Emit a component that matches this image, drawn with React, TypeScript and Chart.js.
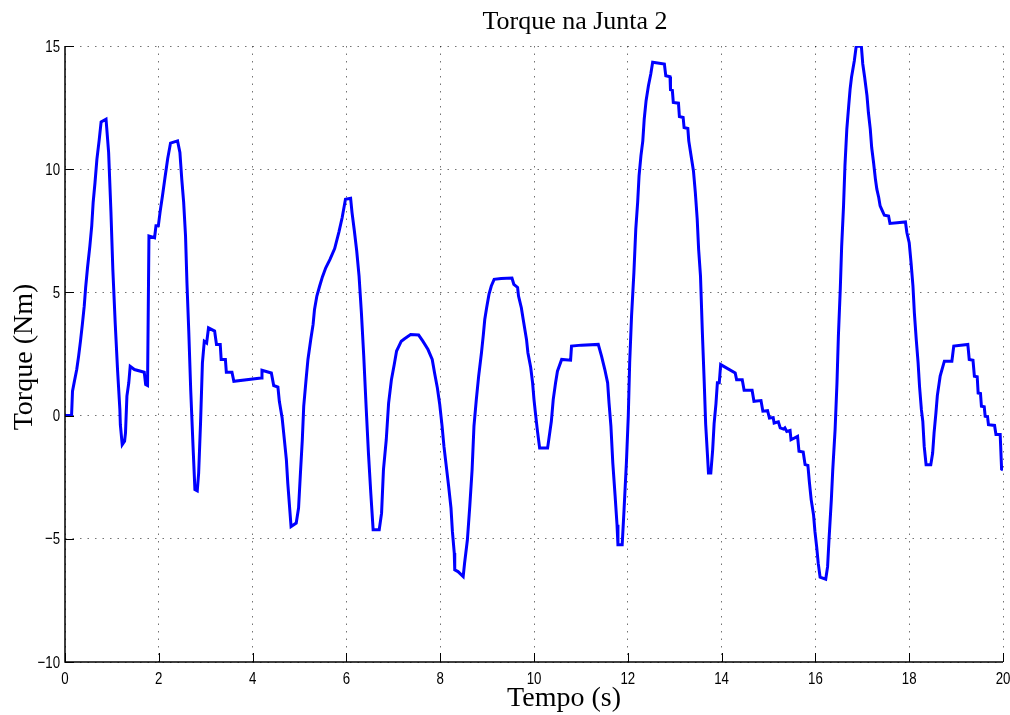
import React, { useEffect, useRef } from "react";
import { Chart, registerables } from "chart.js";

Chart.register(...registerables);

const TITLE = "Torque na Junta 2";
const X_LABEL = "Tempo (s)";
const Y_LABEL = "Torque (Nm)";
const X_MIN = 0;
const X_MAX = 20;
const X_STEP = 2;
const Y_MIN = -10;
const Y_MAX = 15;
const Y_STEP = 5;
const X_TICK_LABELS = ["0", "2", "4", "6", "8", "10", "12", "14", "16", "18", "20"];
const Y_TICK_LABELS = ["\u221210", "\u22125", "0", "5", "10", "15"];

const time = [
  0, 0.14, 0.16, 0.2, 0.25, 0.29, 0.33, 0.37, 0.41, 0.44, 0.48, 0.53, 0.57, 0.6, 0.64, 0.68, 0.73, 0.77, 0.875,
  0.93, 0.98, 1.02, 1.07, 1.12, 1.17, 1.18, 1.22, 1.27, 1.29, 1.32, 1.36, 1.39, 1.48, 1.69, 1.72, 1.76, 1.79,
  1.91, 1.94, 1.99, 2.03, 2.08, 2.13, 2.19, 2.25, 2.4, 2.45, 2.49, 2.53, 2.57, 2.6, 2.64, 2.68, 2.73, 2.77,
  2.82, 2.85, 2.89, 2.93, 2.97, 3.02, 3.06, 3.19, 3.23, 3.31, 3.33, 3.42, 3.44, 3.56, 3.6, 4.18, 4.2, 4.4,
  4.45, 4.54, 4.57, 4.63, 4.67, 4.72, 4.75, 4.79, 4.82, 4.93, 4.98, 5.02, 5.06, 5.09, 5.14, 5.18, 5.24, 5.29,
  5.32, 5.37, 5.43, 5.49, 5.56, 5.65, 5.75, 5.84, 5.91, 5.98, 6.09, 6.12, 6.17, 6.22, 6.27, 6.32, 6.37, 6.42,
  6.47, 6.52, 6.57, 6.7, 6.75, 6.79, 6.85, 6.9, 6.96, 7.02, 7.07, 7.12, 7.17, 7.24, 7.37, 7.54, 7.63, 7.74,
  7.83, 7.88, 7.94, 7.99, 8.04, 8.08, 8.13, 8.18, 8.23, 8.26, 8.3, 8.31, 8.38, 8.49, 8.52, 8.58, 8.63, 8.68,
  8.72, 8.77, 8.82, 8.88, 8.92, 8.95, 8.99, 9.04, 9.09, 9.15, 9.3, 9.53, 9.57, 9.65, 9.67, 9.73, 9.77, 9.84,
  9.87, 9.93, 9.97, 10.0, 10.03, 10.07, 10.12, 10.29, 10.34, 10.37, 10.41, 10.46, 10.5, 10.59, 10.78, 10.8,
  11.01, 11.37, 11.44, 11.51, 11.57, 11.6, 11.64, 11.68, 11.73, 11.77, 11.79, 11.88, 11.92, 11.97, 12.01,
  12.04, 12.08, 12.13, 12.17, 12.21, 12.24, 12.28, 12.32, 12.35, 12.39, 12.44, 12.49, 12.53, 12.78, 12.81,
  12.9, 12.91, 12.95, 12.97, 13.08, 13.1, 13.18, 13.2, 13.28, 13.3, 13.35, 13.4, 13.44, 13.48, 13.51, 13.55,
  13.59, 13.63, 13.66, 13.7, 13.72, 13.77, 13.81, 13.84, 13.88, 13.91, 13.95, 13.98, 14.29, 14.32, 14.44,
  14.48, 14.65, 14.69, 14.84, 14.88, 14.98, 15.02, 15.1, 15.12, 15.21, 15.25, 15.32, 15.35, 15.39, 15.46,
  15.48, 15.62, 15.65, 15.74, 15.78, 15.84, 15.87, 15.91, 15.96, 15.99, 16.03, 16.06, 16.1, 16.22, 16.26,
  16.29, 16.34, 16.37, 16.42, 16.46, 16.49, 16.53, 16.56, 16.6, 16.63, 16.67, 16.71, 16.74, 16.77, 16.83,
  16.87, 16.98, 17.01, 17.05, 17.1, 17.13, 17.17, 17.2, 17.24, 17.28, 17.31, 17.35, 17.38, 17.43, 17.47,
  17.56, 17.59, 17.92, 17.95, 18.0, 18.04, 18.08, 18.11, 18.15, 18.19, 18.22, 18.26, 18.29, 18.32, 18.36,
  18.46, 18.5, 18.53, 18.57, 18.6, 18.66, 18.75, 18.91, 18.95, 19.25, 19.28, 19.36, 19.39, 19.45, 19.47,
  19.52, 19.54, 19.6, 19.62, 19.67, 19.69, 19.82, 19.85, 19.94, 19.97, 20.0,
];

const torque = [
  0, 0, 0.99, 1.39, 1.87, 2.41, 3.02, 3.7, 4.44, 5.19, 6.0, 6.88, 7.7, 8.64, 9.46, 10.4, 11.2, 11.92, 12.03,
  10.68, 8.24, 5.93, 3.77, 1.87, 0.24, -0.37, -1.18, -1.04, -0.7, 0.79, 1.33, 2.0, 1.87, 1.76, 1.26, 1.22, 7.29,
  7.22, 7.7, 7.7, 8.3, 8.94, 9.63, 10.43, 11.06, 11.15, 10.68, 9.59, 8.65, 7.29, 5.4, 3.36, 1.06, -1.25, -3.0,
  -3.05, -2.33, -0.3, 2.14, 3.02, 2.95, 3.56, 3.43, 2.89, 2.89, 2.28, 2.28, 1.76, 1.76, 1.39, 1.53, 1.84, 1.73,
  1.22, 1.16, 0.58, -0.1, -0.84, -1.79, -2.74, -3.75, -4.5, -4.36, -3.75, -2.33, -0.98, 0.38, 1.46, 2.28, 3.09, 3.7,
  4.31, 4.85, 5.26, 5.64, 6.0, 6.34, 6.78, 7.45, 8.04, 8.78, 8.82, 8.24, 7.49, 6.68, 5.66, 4.17, 2.41, 0.38,
  -1.52, -3.14, -4.63, -4.63, -3.96, -2.2, -0.98, 0.51, 1.46, 2.07, 2.62, 2.82, 3.02, 3.12, 3.29, 3.27, 3.02, 2.68,
  2.28, 1.73, 1.12, 0.45, -0.43, -1.25, -2.06, -2.87, -3.75, -4.7, -5.58, -6.26, -6.33, -6.53, -5.99, -5.04, -3.69, -2.2,
  -0.43, 0.65, 1.6, 2.55, 3.29, 3.9, 4.38, 4.92, 5.26, 5.53, 5.56, 5.58, 5.33, 5.2, 4.85, 4.38, 3.9, 3.09,
  2.55, 1.95, 1.33, 0.65, 0.11, -0.57, -1.31, -1.31, -0.64, -0.23, 0.65, 1.33, 1.8, 2.28, 2.25, 2.82,
  2.86, 2.89, 2.41, 1.87, 1.33, 0.51, -0.43, -1.92, -3.28, -4.43, -5.24, -5.24, -3.82, -1.92, -0.03,
  2.14, 4.04, 5.8, 7.56, 8.65, 9.73, 10.54, 11.15, 12.03, 12.78, 13.39, 13.86, 14.34, 14.27, 13.79,
  13.75, 13.23, 13.2, 12.71, 12.68, 12.14, 12.1, 11.69, 11.65, 11.15, 10.54, 9.93, 9.05, 7.97, 6.75, 5.66,
  3.36, 1.33, -0.34, -1.65, -2.33, -2.33, -1.38, -0.34, 0.49, 1.33, 1.33, 2.07, 1.73, 1.46, 1.46,
  1.03, 1.03, 0.58, 0.61, 0.18, 0.2, -0.1, -0.08, -0.3, -0.25, -0.5, -0.55, -0.5, -0.64, -0.6,
  -0.98, -0.84, -1.45, -1.48, -1.99, -2.02, -2.67, -3.41, -4.02, -4.7, -5.38, -5.99, -6.56, -6.64, -6.13,
  -5.04, -3.41, -2.2, -0.57, 1.33, 3.22, 5.12, 6.88, 8.51, 10.14, 11.63, 12.57, 13.25, 13.73, 14.4,
  14.99, 14.99, 14.27, 13.73, 12.98, 12.3, 11.63, 10.88, 10.27, 9.59, 9.19, 8.85, 8.51, 8.3, 8.13,
  8.1, 7.8, 7.86, 7.43, 7.02, 6.2, 5.26, 4.17, 3.09, 2.14, 1.19, 0.24, -0.23, -1.25, -1.99,
  -1.99, -1.52, -0.71, 0.11, 0.81, 1.6, 2.21, 2.21, 2.82, 2.89, 2.28, 2.25, 1.6, 1.58, 0.92,
  0.9, 0.38, 0.36, -0.03, -0.05, -0.37, -0.4, -0.77, -0.77, -2.17, -2.2,
];

const TICK_FONT = "17px 'Liberation Sans', Arial, sans-serif";
const SERIF = "'Liberation Serif', 'DejaVu Serif', serif";

const framePlugin = {
  id: "matlabFrame",
  afterDraw(chart: any) {
    const { ctx, chartArea } = chart;
    const xs = chart.scales.x;
    const ys = chart.scales.y;
    const { left, right, top, bottom } = chartArea;
    ctx.save();
    ctx.strokeStyle = "#000";
    ctx.lineWidth = 1.5;
    ctx.setLineDash([]);
    ctx.beginPath();
    ctx.moveTo(left, top);
    ctx.lineTo(left, bottom);
    ctx.lineTo(right, bottom);
    ctx.stroke();
    ctx.lineWidth = 1;
    ctx.beginPath();
    for (let v = Y_MIN; v <= Y_MAX; v += Y_STEP) {
      const py = Math.round(ys.getPixelForValue(v)) + 0.5;
      ctx.moveTo(left, py);
      ctx.lineTo(left + 9, py);
    }
    for (let v = X_MIN; v <= X_MAX; v += X_STEP) {
      const px = Math.round(xs.getPixelForValue(v)) + 0.5;
      ctx.moveTo(px, bottom);
      ctx.lineTo(px, bottom - 9);
    }
    ctx.stroke();

    ctx.fillStyle = "#000";
    ctx.font = TICK_FONT;
    ctx.textBaseline = "middle";
    ctx.textAlign = "center";
    X_TICK_LABELS.forEach((lab, i) => {
      const px = xs.getPixelForValue(X_MIN + i * X_STEP);
      ctx.save();
      ctx.translate(px, bottom + 17);
      ctx.scale(0.78, 1);
      ctx.fillText(lab, 0, 0);
      ctx.restore();
    });
    ctx.textAlign = "right";
    Y_TICK_LABELS.forEach((lab, i) => {
      const py = ys.getPixelForValue(Y_MIN + i * Y_STEP);
      ctx.save();
      ctx.translate(left - 5, py + 1);
      ctx.scale(0.78, 1);
      ctx.fillText(lab, 0, 0);
      ctx.restore();
    });

    ctx.textAlign = "center";
    ctx.font = `26px ${SERIF}`;
    ctx.fillText(TITLE, 575, 22);
    ctx.font = `28px ${SERIF}`;
    ctx.fillText(X_LABEL, 564, 699);
    ctx.translate(25, 357);
    ctx.rotate(-Math.PI / 2);
    ctx.fillText(Y_LABEL, 0, 0);
    ctx.restore();
  },
};

export default function App() {
  const ref = useRef<HTMLCanvasElement | null>(null);
  useEffect(() => {
    if (!ref.current) return;
    const points = time.map((t, i) => ({ x: t, y: torque[i] }));
    const chart = new Chart(ref.current, {
      type: "line",
      data: {
        datasets: [
          {
            label: "Torque",
            data: points,
            borderColor: "#0000ff",
            borderWidth: 3,
            pointRadius: 0,
            tension: 0,
            fill: false,
          },
        ],
      },
      options: {
        animation: false,
        responsive: false,
        maintainAspectRatio: false,
        layout: { padding: { left: 0, right: 7, top: 46, bottom: 0 } },
        plugins: { legend: { display: false }, tooltip: { enabled: false }, title: { display: false } },
        scales: {
          x: {
            type: "linear",
            min: X_MIN,
            max: X_MAX,
            afterFit(scale: any) {
              scale.height = 53;
              scale.paddingLeft = 0;
              scale.paddingRight = 0;
            },
            ticks: { stepSize: X_STEP, display: false },
            grid: { color: "rgba(0,0,0,0.55)", lineWidth: 1, drawTicks: false },
            border: { display: false, dash: [1.5, 6] },
          },
          y: {
            type: "linear",
            min: Y_MIN,
            max: Y_MAX,
            afterFit(scale: any) {
              scale.width = 65;
              scale.paddingTop = 0;
              scale.paddingBottom = 0;
            },
            ticks: { stepSize: Y_STEP, display: false },
            grid: { color: "rgba(0,0,0,0.55)", lineWidth: 1, drawTicks: false },
            border: { display: false, dash: [1.5, 6] },
          },
        },
      },
      plugins: [framePlugin],
    });
    return () => chart.destroy();
  }, []);
  return (
    <div style={{ position: "fixed", left: 0, top: 0, width: 1010, height: 715, background: "#fff" }}>
      <canvas ref={ref} width={1010} height={715} style={{ width: 1010, height: 715 }} />
    </div>
  );
}
